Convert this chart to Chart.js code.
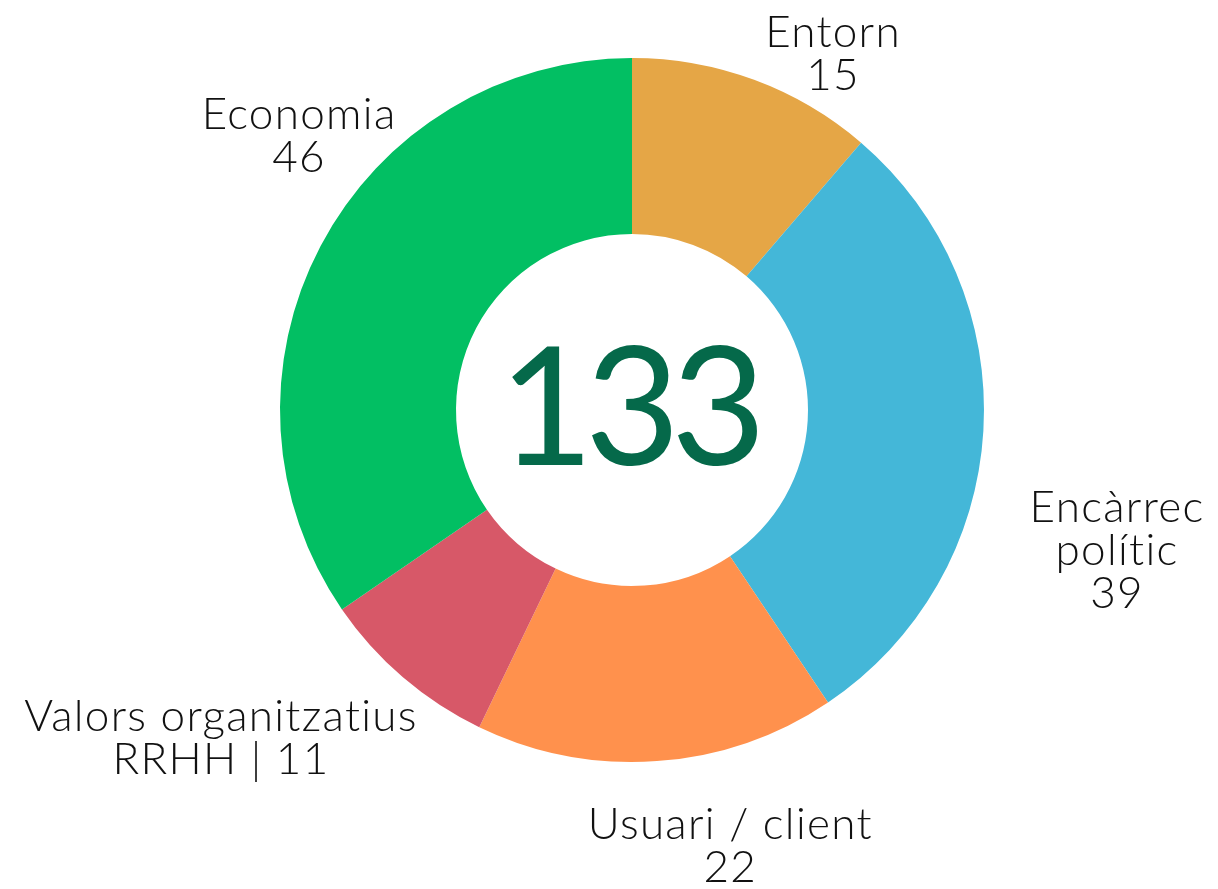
<!DOCTYPE html>
<html>
<head>
<meta charset="utf-8">
<script src="https://cdn.jsdelivr.net/npm/chart.js@4/dist/chart.umd.min.js"></script>
<style>
    html, body { margin: 0; padding: 0; background: #fff; }
    #wrap { width: 1218px; height: 889px; position: relative; }
</style>
</head>
<body>
<div id="wrap"><canvas id="donut"></canvas></div>
<script>
// data
const categories = [['Entorn'], ['Encàrrec', 'polític'], ['Usuari / client'], ['Valors organitzatius', 'RRHH'], ['Economia']];
const counts = [15, 39, 22, 11, 46];
const valueInline = [false, false, false, true, false];
const sliceColors = ['#E5A646', '#44B7D8', '#FF914D', '#D75868', '#02BF63'];
const totalLabel = String(counts.reduce((a, b) => a + b, 0));

// label anchors: angle from top (deg, clockwise) and distance as fraction of outer radius
const labelSpots = [
    { angle: 29.5, dist: 1.16 },
    { angle: 106.2, dist: 1.435 },
    { angle: 167.3, dist: 1.27 },
    { angle: 231.4, dist: 1.494 },
    { angle: 309.4, dist: 1.224 },
];

const outsideLabels = {
    id: 'outsideLabels',
    afterDraw(chart) {
        const ctx = chart.ctx;
        const arcs = chart.getDatasetMeta(0).data;
        if (!arcs.length) return;
        const cx = arcs[0].x, cy = arcs[0].y, r = arcs[0].outerRadius;

        ctx.save();
        ctx.textAlign = 'center';
        ctx.textBaseline = 'middle';
        ctx.fillStyle = '#111';
        ctx.font = '300 44px Lato';
        ctx.letterSpacing = '1.3px';
        const lineH = 43;

        categories.forEach((cat, i) => {
            const lines = cat.slice();
            if (valueInline[i]) lines[lines.length - 1] += ' | ' + counts[i];
            else lines.push(String(counts[i]));
            const a = labelSpots[i].angle * Math.PI / 180;
            const d = labelSpots[i].dist * r;
            const x = cx + d * Math.sin(a);
            const y = cy - d * Math.cos(a);
            const top = y - (lines.length - 1) * lineH / 2;
            lines.forEach((ln, k) => ctx.fillText(ln, x, top + k * lineH));
        });

        // total in the middle
        ctx.fillStyle = '#05694A';
        ctx.font = '400 164px Lato';
        ctx.letterSpacing = '-9px';
        ctx.fillText(totalLabel, cx - 4, cy + 2);
        ctx.restore();
    }
};

new Chart(document.getElementById('donut'), {
    type: 'doughnut',
    data: {
        labels: categories,
        datasets: [{
            data: counts,
            backgroundColor: sliceColors,
            borderWidth: 0,
        }]
    },
    options: {
        responsive: true,
        maintainAspectRatio: false,
        animation: false,
        cutout: '50%',
        layout: { padding: { left: 280, right: 234, top: 58, bottom: 127 } },
        plugins: {
            legend: { display: false },
            tooltip: { enabled: false },
        }
    },
    plugins: [outsideLabels]
});
</script>
</body>
</html>
